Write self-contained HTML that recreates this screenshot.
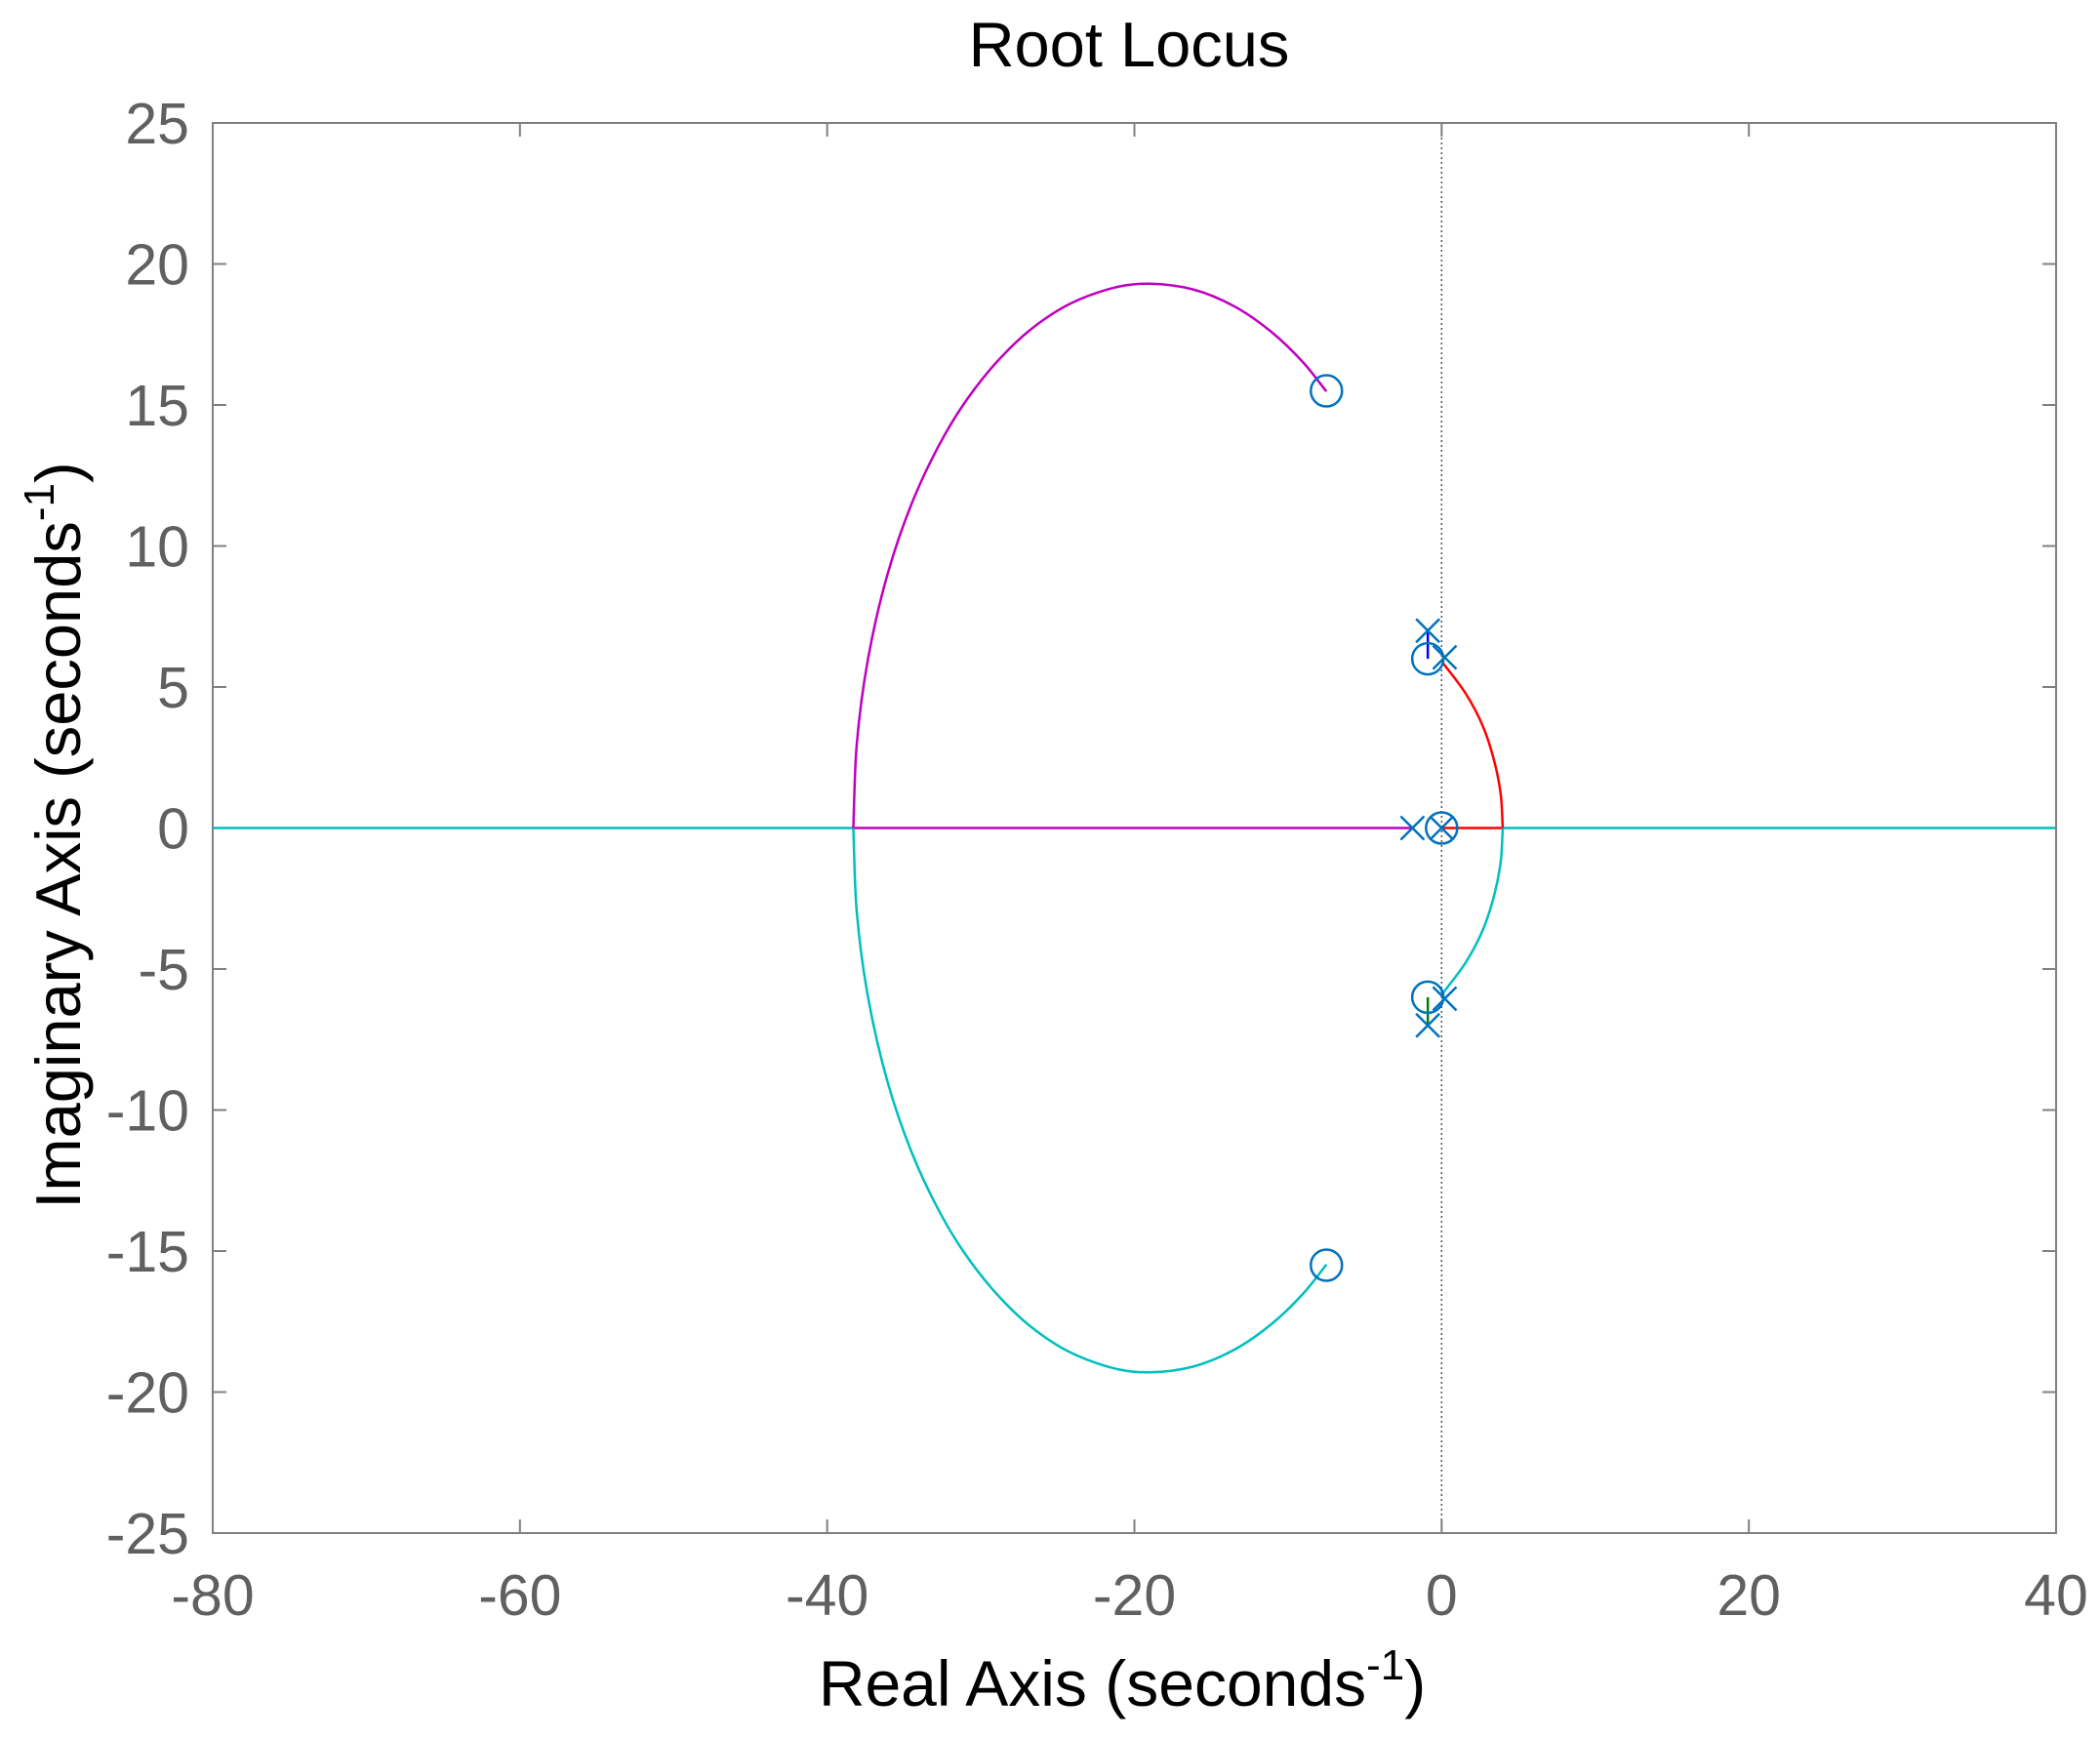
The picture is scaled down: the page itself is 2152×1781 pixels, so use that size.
<!DOCTYPE html>
<html><head><meta charset="utf-8"><style>
html,body{margin:0;padding:0;background:#fff;}
svg{display:block;font-family:"Liberation Sans",Arial,sans-serif;}
</style></head><body>
<svg id="chart" width="2152" height="1781" viewBox="0 0 2152 1781">
<rect width="2152" height="1781" fill="#fff"/>
<text x="1157" y="68" font-size="65" text-anchor="middle" fill="#000">Root Locus</text>
<g id="axes"></g>
<g id="marks"></g>
<text x="1150" y="1748" font-size="66" text-anchor="middle" fill="#000">Real Axis (seconds<tspan dy="-27" font-size="44">-1</tspan><tspan dy="27">)</tspan></text>
<text transform="translate(82,856) rotate(-90)" font-size="65" text-anchor="middle" fill="#000">Imaginary Axis (seconds<tspan dy="-27" font-size="44">-1</tspan><tspan dy="27">)</tspan></text>
</svg>
<script>
const xTicks = [-80,-60,-40,-20,0,20,40];
const yTicks = [-25,-20,-15,-10,-5,0,5,10,15,20,25];
const magAxisRe = [-1.9,-38.3];
const magRe = [-38.3,-38.07,-37.34,-36.07,-34.5,-32.79,-31.15,-29.0,-26.7,-24.15,-21.0,-19.0,-16.2,-13.5,-11.1,-9.0,-7.5];
const magIm = [0,3.0,6.0,9.0,11.5,13.5,15.0,16.5,17.7,18.6,19.2,19.3,19.1,18.5,17.6,16.5,15.48];
const cyaLowRe = [-38.3,-38.07,-37.34,-36.07,-34.5,-32.79,-31.15,-29.0,-26.7,-24.15,-21.0,-19.0,-16.2,-13.5,-11.1,-9.0,-7.5];
const cyaLowIm = [0,-3.0,-6.0,-9.0,-11.5,-13.5,-15.0,-16.5,-17.7,-18.6,-19.2,-19.3,-19.1,-18.5,-17.6,-16.5,-15.48];
const cyaLeftRe = [-80,-38.3];
const cyaRightRe = [3.98,40];
const redRe = [0.05,1.6,2.7,3.45,3.85,3.98];
const redIm = [5.88,4.74,3.59,2.32,1.18,0];
const redAxisRe = [3.98,0];
const cyaSmRe = [3.98,3.85,3.45,2.7,1.6,0.05];
const cyaSmIm = [0,-1.18,-2.32,-3.59,-4.74,-5.88];
const blueRe = [-0.9,-0.9]; const blueIm = [7.0,6.0];
const greenRe = [-0.9,-0.9]; const greenIm = [-6.0,-7.0];
const poleRe = [-0.9,-0.9,0.2,0.2,-1.9,0];
const poleIm = [7.0,-7.0,6.05,-6.05,0,0];
const zeroRe = [-7.5,-7.5,-0.9,-0.9,0];
const zeroIm = [15.5,-15.5,6.0,-6.0,0];

const L=218,R=2107,T=126,B=1571;
const xs=v=>L+(v+80)/120*(R-L);
const ys=v=>B-(v+25)/50*(B-T);
const NS='http://www.w3.org/2000/svg';
const axes=document.getElementById('axes'), marks=document.getElementById('marks');
function mk(tag,attrs,parent){const e=document.createElementNS(NS,tag);for(const k in attrs)e.setAttribute(k,attrs[k]);parent.appendChild(e);return e;}

let e=mk('line',{x1:xs(0),x2:xs(0),y1:T,y2:B,stroke:'#555','stroke-width':1.5,'stroke-dasharray':'2,3'},axes);



xTicks.forEach(t=>{
  let l=mk('line',{x1:xs(t),x2:xs(t),y1:B,y2:B-14,stroke:'#808080','stroke-width':2},axes);
  
  
  let l2=mk('line',{x1:xs(t),x2:xs(t),y1:T,y2:T+14,stroke:'#808080','stroke-width':2},axes);
  
  
  let tx=mk('text',{x:xs(t),y:1655,'font-size':59,'text-anchor':'middle',fill:'#606060'},axes);
  tx.textContent=t;
  
  
});
yTicks.forEach(t=>{
  let l=mk('line',{x1:L,x2:L+14,y1:ys(t),y2:ys(t),stroke:'#808080','stroke-width':2},axes);
  
  
  let l2=mk('line',{x1:R,x2:R-14,y1:ys(t),y2:ys(t),stroke:'#808080','stroke-width':2},axes);
  
  
  let tx=mk('text',{x:194,y:ys(t)+21,'font-size':59,'text-anchor':'end',fill:'#606060'},axes);
  tx.textContent=t;
  
  
});
let fr=mk('rect',{x:L,y:T,width:R-L,height:B-T,fill:'none',stroke:'#808080','stroke-width':2},axes);



function smooth(re,im){
  const p=re.map((r,i)=>[xs(r),ys(im[i])]);
  const n=p.length;
  const dist=(a,b)=>Math.pow(Math.hypot(a[0]-b[0],a[1]-b[1]),0.5);
  let d='M'+p[0][0].toFixed(2)+','+p[0][1].toFixed(2);
  for(let i=0;i<n-1;i++){
    const p1=p[i],p2=p[i+1];
    const p0=i>0?p[i-1]:[2*p1[0]-p2[0],2*p1[1]-p2[1]];
    const p3=i<n-2?p[i+2]:[2*p2[0]-p1[0],2*p2[1]-p1[1]];
    const d1=dist(p0,p1),d2=dist(p1,p2),d3=dist(p2,p3);
    const c1=[0,1].map(k=>(d1*d1*p2[k]-d2*d2*p0[k]+(2*d1*d1+3*d1*d2+d2*d2)*p1[k])/(3*d1*(d1+d2)));
    const c2=[0,1].map(k=>(d3*d3*p1[k]-d2*d2*p3[k]+(2*d3*d3+3*d3*d2+d2*d2)*p2[k])/(3*d3*(d3+d2)));
    d+=' C'+c1.map(v=>v.toFixed(2))+' '+c2.map(v=>v.toFixed(2))+' '+p2.map(v=>v.toFixed(2));
  }
  return d;
}
function poly(re,im){return re.map((r,i)=>(i?'L':'M')+xs(r)+','+ys(im[i])).join(' ');}
function addPath(d,color,name){
  const p=mk('path',{d:d,stroke:color,'stroke-width':2.5,fill:'none'},marks);
  
  
}
addPath(poly(cyaLeftRe,[0,0]),'#00bfbf','cyan-branch-left');
addPath(poly(cyaRightRe,[0,0]),'#00bfbf','cyan-branch-right');
addPath(poly(magAxisRe,[0,0]),'#bf00bf','magenta-branch-axis');
addPath(smooth(magRe,magIm),'#bf00bf','magenta-branch-arc');
addPath(smooth(cyaLowRe,cyaLowIm),'#00bfbf','cyan-branch-lower');
addPath(smooth(redRe,redIm),'#ff0000','red-branch-arc');
addPath(poly(redAxisRe,[0,0]),'#ff0000','red-branch-axis');
addPath(smooth(cyaSmRe,cyaSmIm),'#00bfbf','cyan-branch-small');
addPath(poly(blueRe,blueIm),'#0000ff','blue-branch');
addPath(poly(greenRe,greenIm),'#008000','green-branch');

zeroRe.forEach((r,i)=>{
  let c=mk('circle',{cx:xs(r),cy:ys(zeroIm[i]),r:16,fill:'none',stroke:'#0072bd','stroke-width':2.5},marks);
  
  
});
poleRe.forEach((r,i)=>{
  const cx=xs(r),cy=ys(poleIm[i]),s=12;
  let g=mk('path',{d:`M${cx-s},${cy-s} L${cx+s},${cy+s} M${cx-s},${cy+s} L${cx+s},${cy-s}`,stroke:'#0072bd','stroke-width':2.5,fill:'none'},marks);
  
  
});
</script>
</body></html>
